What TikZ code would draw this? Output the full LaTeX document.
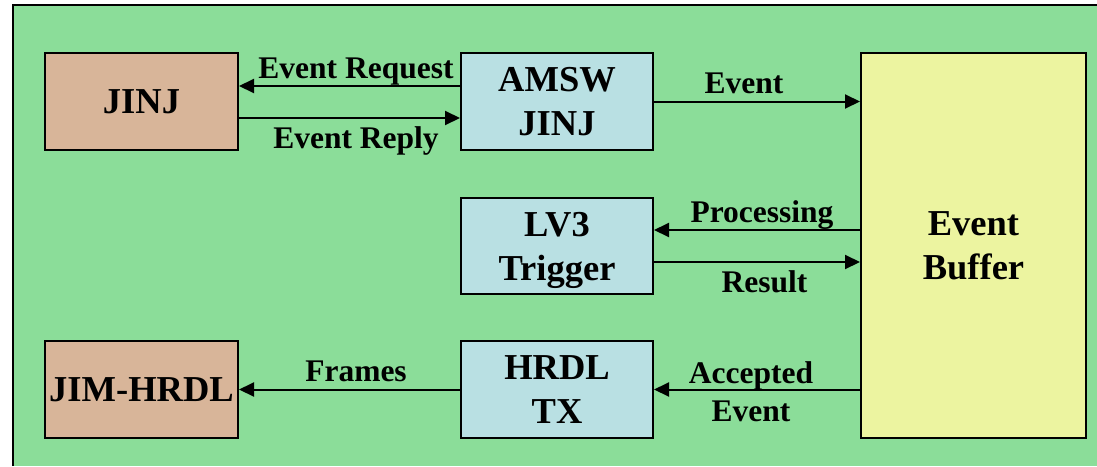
\documentclass[tikz,border=0pt]{standalone}
\usepackage{fontspec}
\setmainfont{Liberation Serif}
\usetikzlibrary{arrows.meta}
\definecolor{panelgreen}{RGB}{139,221,153}
\definecolor{hosttan}{RGB}{216,181,153}
\definecolor{procblue}{RGB}{185,224,227}
\definecolor{bufyellow}{RGB}{236,244,160}
\begin{document}
\begin{tikzpicture}[x=1pt,y=-1pt,
  box/.style={draw=black, line width=2pt, inner sep=0pt, text depth=0pt,
    align=center, font=\fontsize{36.5}{44}\selectfont\bfseries},
  host/.style={box, fill=hosttan, minimum width=193pt, minimum height=97pt},
  proc/.style={box, fill=procblue, minimum width=192pt, minimum height=97pt},
  lab/.style={inner sep=0pt, align=center, font=\fontsize{31.5}{38}\selectfont\bfseries},
  arr/.style={line width=2pt, -{Triangle[length=15pt,width=14pt]}}]
\useasboundingbox (0,0) rectangle (1097,466);
% panel
\fill[panelgreen] (13,5) rectangle (1097,466);
\draw[line width=2pt] (13,466) -- (13,5) -- (1097,5);
% blocks
\node[host] (jinj) at (141.5,101.5) {JINJ};
\node[host] (jimhrdl) at (141.5,389.5) {JIM-HRDL};
\node[proc] (amsw) at (557,101.5) {AMSW\\JINJ};
\node[proc, minimum height=96pt] (lv3) at (557,246) {LV3\\Trigger};
\node[proc] (hrdltx) at (557,389.5) {HRDL\\TX};
\node[box, fill=bufyellow, minimum width=225pt, minimum height=385pt] (evbuf) at (973.5,245.5) {Event\\Buffer};
% connectors
\draw[arr] ([yshift=15.5pt]amsw.west) -- ([yshift=15.5pt]jinj.east)
  node[lab, midway, anchor=base, xshift=6.5pt, yshift=8pt] {Event Request};
\draw[arr] ([yshift=-16.5pt]jinj.east) -- ([yshift=-16.5pt]amsw.west)
  node[lab, midway, anchor=base, xshift=6.5pt, yshift=-30pt] {Event Reply};
\draw[arr] (amsw.east) -- (amsw.east -| evbuf.west)
  node[lab, midway, anchor=base, xshift=-13pt, yshift=8pt] {Event};
\coordinate (proc) at ([yshift=16pt]lv3.east);
\coordinate (res) at ([yshift=-16pt]lv3.east);
\draw[arr] (proc -| evbuf.west) -- (proc)
  node[lab, midway, anchor=base, xshift=5pt, yshift=8pt] {Processing};
\draw[arr] (res) -- (res -| evbuf.west)
  node[lab, midway, anchor=base, xshift=7.5pt, yshift=-30pt] {Result};
\draw[arr] (hrdltx.west) -- (jimhrdl.east)
  node[lab, midway, anchor=base, xshift=6.5pt, yshift=8pt] {Frames};
\draw[arr] (hrdltx.east -| evbuf.west) -- (hrdltx.east)
  node[lab, midway, anchor=north, xshift=-6pt, yshift=29.3pt] {Accepted\\Event};
\end{tikzpicture}
\end{document}
